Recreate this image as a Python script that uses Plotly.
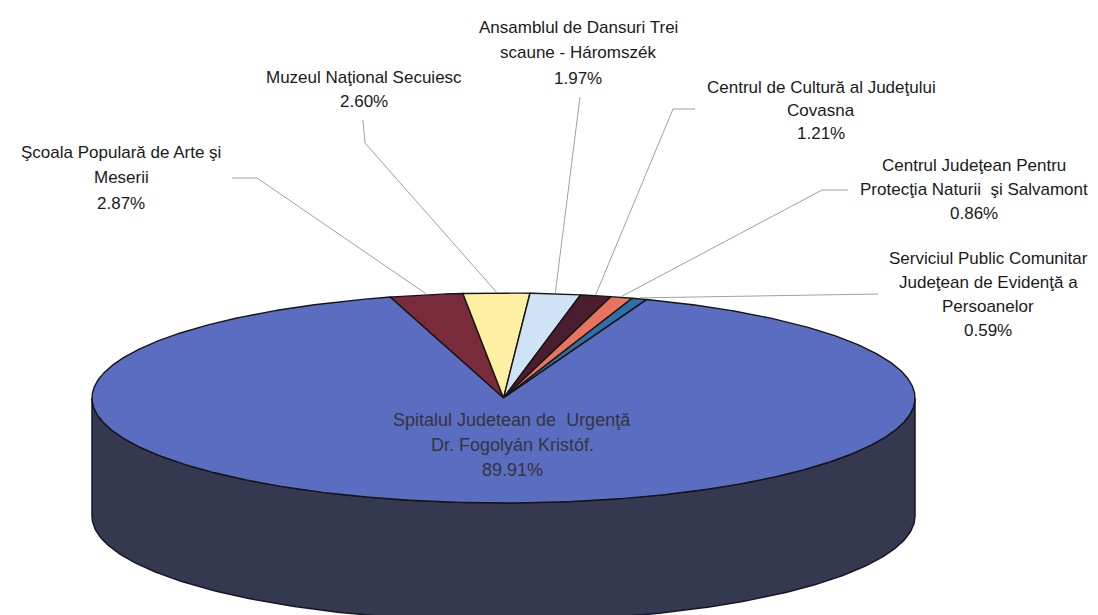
import numpy as np
import plotly.graph_objects as go

# ---- data ----
categories = [
    ["Şcoala Populară de Arte şi", "Meserii"],
    ["Muzeul Naţional Secuiesc"],
    ["Ansamblul de Dansuri Trei", "scaune - Háromszék"],
    ["Centrul de Cultură al Judeţului", "Covasna"],
    ["Centrul Judeţean Pentru", "Protecţia Naturii  şi Salvamont"],
    ["Serviciul Public Comunitar", "Judeţean de Evidenţă a", "Persoanelor"],
    ["Spitalul Judetean de  Urgenţă", "Dr. Fogolyán Kristóf."],
]
values = [2.87, 2.60, 1.97, 1.21, 0.86, 0.59, 89.91]
colors = ["#7a2b3b", "#fdf0a2", "#cfe3f7", "#4a1e2e", "#e8735f", "#2d6fa6", "#5b6dc1"]
wall_color = "#34394f"

# ---- geometry (layout) ----
W, H = 1098, 615
OFF = 8  # page body margin
cx, cy, a, b, depth = 503.5, 398, 411.5, 105, 118
start_deg = 106.0
FONT = "Liberation Sans, Arial, sans-serif"

def ell(t_deg, dy=0.0):
    t = np.radians(t_deg)
    return cx + a * np.cos(t), cy - b * np.sin(t) + dy

fig = go.Figure()

# side wall (front half)
ts = np.linspace(180, 360, 240)
xt, yt = ell(ts)
xb, yb = ell(ts[::-1], depth)
fig.add_trace(go.Scatter(x=np.concatenate([xt, xb, xt[:1]]), y=np.concatenate([yt, yb, yt[:1]]),
                         fill="toself", fillcolor=wall_color, mode="lines",
                         line=dict(color="#15172a", width=1.5), hoverinfo="skip"))

total = sum(values)
angles = []
t0 = start_deg
for v, c in zip(values, colors):
    sweep = v / total * 360
    t1 = t0 - sweep
    tt = np.linspace(t0, t1, max(3, int(sweep * 3)))
    px, py = ell(tt)
    xs = np.concatenate([[cx], px, [cx]])
    ys = np.concatenate([[cy], py, [cy]])
    fig.add_trace(go.Scatter(x=xs, y=ys, fill="toself", fillcolor=c, mode="lines",
                             line=dict(color="#151515", width=1.4), hoverinfo="skip"))
    angles.append((t0 + t1) / 2)
    t0 = t1

# label layout: (center x, first-line y, line spacing, leader path points before slice)
label_layout = [
    (121, 152, 25.5, [(232, 178), (257, 178)]),
    (364, 77, 24.5, [(363, 120), (365, 143)]),
    (578, 27, 25.5, [(580, 97)]),
    (821, 87, 23.0, [(695, 109), (673, 109)]),
    (974, 165, 24.0, [(848, 190), (822, 190)]),
    (988, 258, 24.0, [(878, 294)]),
]
for i, (lx, ly, sp, path) in enumerate(label_layout):
    lines = categories[i] + [f"{values[i]:.2f}%"]
    for k, s in enumerate(lines):
        fig.add_annotation(x=lx, y=ly + k * sp, text=s, showarrow=False, xref="x", yref="y",
                           xanchor="center", yanchor="middle",
                           font=dict(family=FONT, size=17, color="#1a1a1a"))
    tx, ty = ell(angles[i])
    xs = [p[0] for p in path] + [tx]
    ys = [p[1] for p in path] + [ty - 1]
    fig.add_trace(go.Scatter(x=xs, y=ys, mode="lines", line=dict(color="#a0a0a0", width=1),
                             hoverinfo="skip"))

# big slice label
big_lines = categories[6] + [f"{values[6]:.2f}%"]
for k, s in enumerate(big_lines):
    fig.add_annotation(x=512, y=420 + k * 25, text=s, showarrow=False, xref="x", yref="y",
                       xanchor="center", yanchor="middle",
                       font=dict(family=FONT, size=18, color="#34343c"))

fig.update_layout(width=W, height=H, margin=dict(l=0, r=0, t=0, b=0),
                  paper_bgcolor="white", plot_bgcolor="white", showlegend=False,
                  xaxis=dict(range=[OFF, W + OFF], visible=False, fixedrange=True),
                  yaxis=dict(range=[H + OFF, OFF], visible=False, fixedrange=True))
fig.write_html("out.html")
